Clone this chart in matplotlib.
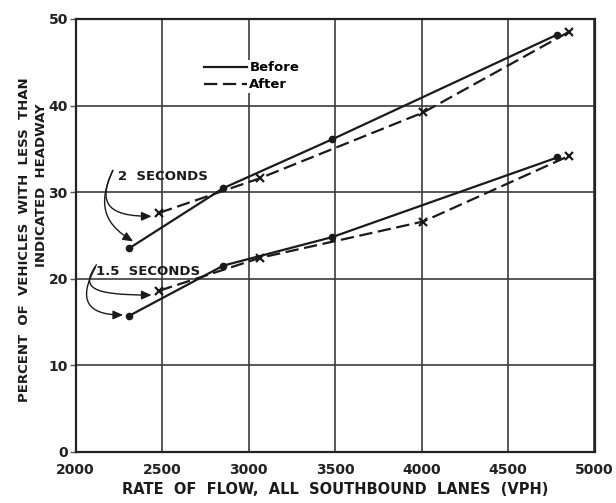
import matplotlib
matplotlib.use("Agg")
import matplotlib.pyplot as plt
from matplotlib.path import Path
from matplotlib.patches import FancyArrowPatch

# ---- data ----
x_before = [2310, 2854, 3484, 4785]
x_after = [2484, 3066, 4010, 4855]
two_sec_before = [23.5, 30.45, 36.1, 48.2]
two_sec_after = [27.6, 31.6, 39.2, 48.55]
one5_sec_before = [15.7, 21.5, 24.8, 34.0]
one5_sec_after = [18.6, 22.4, 26.6, 34.2]
x_ticks = [2000, 2500, 3000, 3500, 4000, 4500, 5000]
y_ticks = [0, 10, 20, 30, 40, 50]

plt.rcParams['font.family'] = ['DejaVu Sans']
plt.rcParams['font.weight'] = 'bold'

W, H = 616, 503
fig = plt.figure(figsize=(W / 100, H / 100), dpi=100)
ax = fig.add_axes([75.5 / W, 1 - 451.7 / H, 519 / W, 432.7 / H])
ax.set_xlim(2000, 5000)
ax.set_ylim(0, 50)
ax.set_xticks(x_ticks)
ax.set_yticks(y_ticks)
ax.grid(True, color='#3c3c3c', linewidth=1.2)
ax.set_axisbelow(True)
for s in ax.spines.values():
    s.set_linewidth(1.6)
    s.set_color('#222222')
ax.tick_params(axis='x', length=0, pad=8, labelsize=10, colors='#222222')
ax.tick_params(axis='y', length=4, width=1, color='#555555', pad=1.5,
               labelsize=10, labelcolor='#222222')
for lab in ax.get_xticklabels() + ax.get_yticklabels():
    lab.set_fontweight('bold')

ink = '#1a1a1a'
dash = (0, (6, 2.5))
ax.plot(x_before, two_sec_before, color=ink, lw=1.6, marker='o', ms=4.5,
        label='Before')
ax.plot(x_after, two_sec_after, color=ink, lw=1.6, ls=dash, marker='x',
        ms=5.5, mew=1.6, label='After')
ax.plot(x_before, one5_sec_before, color=ink, lw=1.6, marker='o', ms=4.5)
ax.plot(x_after, one5_sec_after, color=ink, lw=1.6, ls=dash, marker='x',
        ms=5.5, mew=1.6)

leg = ax.legend(loc='upper left', bbox_to_anchor=(0.246, 0.905),
                frameon=True, facecolor='white', edgecolor='none',
                framealpha=1, fancybox=False, borderpad=0.1,
                borderaxespad=0, handlelength=3.2, handletextpad=0.2,
                labelspacing=0.3, prop={'weight': 'bold', 'size': 9.5})
for h in leg.legend_handles:
    h.set_marker('')

# annotations with curved arrows
ax.text(2246, 31.8, '2  SECONDS', fontsize=9.5, fontweight='bold',
        va='center', ha='left', color=ink)
ax.text(2121, 20.8, '1.5  SECONDS', fontsize=9.5, fontweight='bold',
        va='center', ha='left', color=ink)

curves = [
    [(2216, 32.5), (2120, 28.5), (2200, 27.2), (2440, 27.2)],
    [(2216, 32.5), (2110, 28.0), (2195, 26.0), (2333, 24.3)],
    [(2121, 21.6), (2030, 19.0), (2080, 18.1), (2440, 18.1)],
    [(2115, 21.3), (2010, 17.5), (2070, 15.8), (2275, 15.8)],
]
for pts in curves:
    p = Path(pts, [Path.MOVETO, Path.CURVE4, Path.CURVE4, Path.CURVE4])
    arr = FancyArrowPatch(path=p, arrowstyle='-|>,head_length=0.5,head_width=0.22',
                          mutation_scale=12, color=ink, lw=1.0,
                          transform=ax.transData)
    ax.add_patch(arr)

fig.text(335 / W, 1 - 490 / H, 'RATE  OF  FLOW,  ALL  SOUTHBOUND  LANES  (VPH)',
         ha='center', va='center', fontsize=10.5, fontweight='bold', color=ink)
fig.text(25 / W, 1 - 240 / H, 'PERCENT  OF  VEHICLES  WITH  LESS  THAN',
         rotation=90, ha='center', va='center', fontsize=9.5,
         fontweight='bold', color=ink)
fig.text(41.5 / W, 1 - 185 / H, 'INDICATED  HEADWAY',
         rotation=90, ha='center', va='center', fontsize=9.5,
         fontweight='bold', color=ink)

fig.savefig('out.png', dpi=100, facecolor='white')
